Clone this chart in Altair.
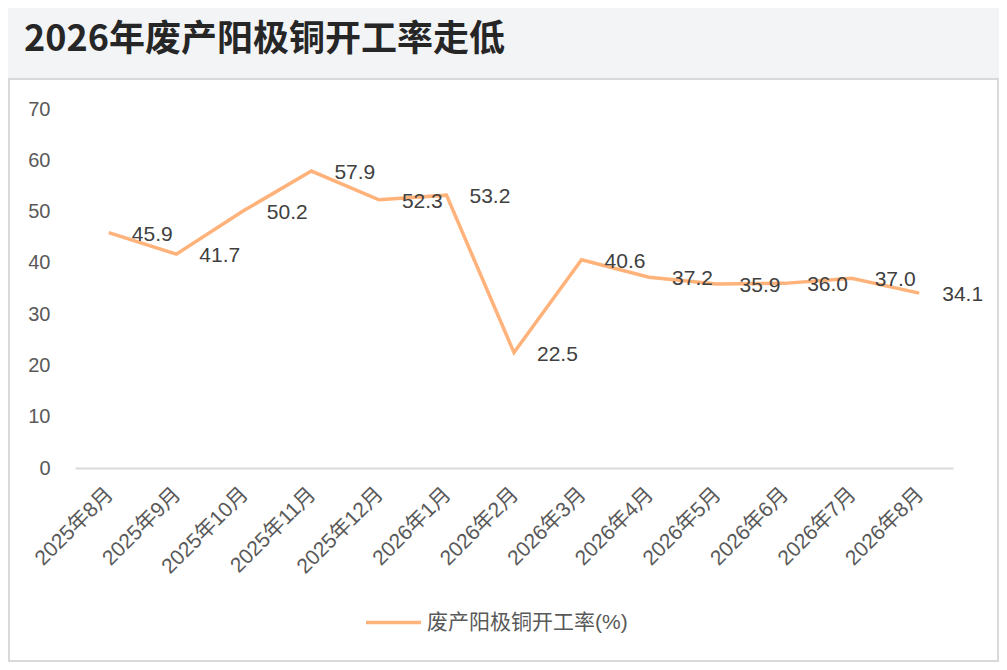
import altair as alt
import pandas as pd

months = ["2025年8月", "2025年9月", "2025年10月", "2025年11月", "2025年12月",
          "2026年1月", "2026年2月", "2026年3月", "2026年4月", "2026年5月",
          "2026年6月", "2026年7月", "2026年8月"]
rates = [45.9, 41.7, 50.2, 57.9, 52.3, 53.2, 22.5, 40.6, 37.2, 35.9, 36.0, 37.0, 34.1]
series_name = "废产阳极铜开工率(%)"
title_text = "2026年废产阳极铜开工率走低"
y_ticks = [0, 10, 20, 30, 40, 50, 60, 70]

df = pd.DataFrame({"month": months, "rate": rates, "series": series_name})
df["label"] = [f"{v:.1f}" for v in rates]

LINE_COLOR = "#FFB27A"
FONT = "Liberation Sans, Noto Sans CJK SC, sans-serif"

x_enc = alt.X("month:N", sort=months, title=None,
              scale=alt.Scale(type="point", padding=0.5),
              axis=alt.Axis(labelAngle=-45, labelAlign="right", labelBaseline="top",
                            labelFontSize=21, labelColor="#595959", labelFont=FONT,
                            labelPadding=15, labelOffset=-7, ticks=False,
                            domainColor="#D9D9D9", domainWidth=2, grid=False,
                            labelOverlap=False, zindex=1))
y_enc = alt.Y("rate:Q", title=None,
              scale=alt.Scale(domain=[0, 70], nice=False),
              axis=alt.Axis(values=y_ticks, labelFontSize=20, labelColor="#595959",
                            labelFont=FONT, labelPadding=25, ticks=False,
                            domain=False, grid=False, zindex=1))

panel = alt.Chart(pd.DataFrame({"a": [0]})).mark_rect(
    fill="white", stroke="#D9D9D9", strokeWidth=2
).encode(x=alt.value(-66), x2=alt.value(923), y=alt.value(-30), y2=alt.value(552))

line = alt.Chart(df).mark_line(strokeWidth=3.5, strokeJoin="miter").encode(
    x=x_enc, y=y_enc,
    color=alt.Color("series:N", title=None,
                    scale=alt.Scale(domain=[series_name], range=[LINE_COLOR]),
                    legend=alt.Legend(orient="none", legendX=289, legendY=484,
                                      symbolType="stroke", symbolSize=3025,
                                      symbolStrokeWidth=3.5, labelFontSize=21,
                                      labelColor="#595959", labelFont=FONT,
                                      labelOffset=4, labelLimit=0))
)

labels = alt.Chart(df).mark_text(
    align="left", baseline="middle", dx=23, dy=2, fontSize=21,
    color="#404040", font=FONT
).encode(x=alt.X("month:N", sort=months), y="rate:Q", text="label:N")

chart = alt.layer(panel, line, labels).properties(
    width=878, height=359,
    padding={"left": 67, "top": 101, "right": 46, "bottom": 194},
    autosize=alt.AutoSizeParams(type="none"),
    background="#F3F4F6",
    title=alt.TitleParams(title_text, anchor="start", frame="group", dx=-51,
                          offset=19, fontSize=36, fontWeight="bold",
                          font="Noto Sans CJK SC", color="#262626"),
).configure_view(stroke=None, fill=None)

chart.save("out.html", embed_options={"renderer": "svg", "actions": False})
